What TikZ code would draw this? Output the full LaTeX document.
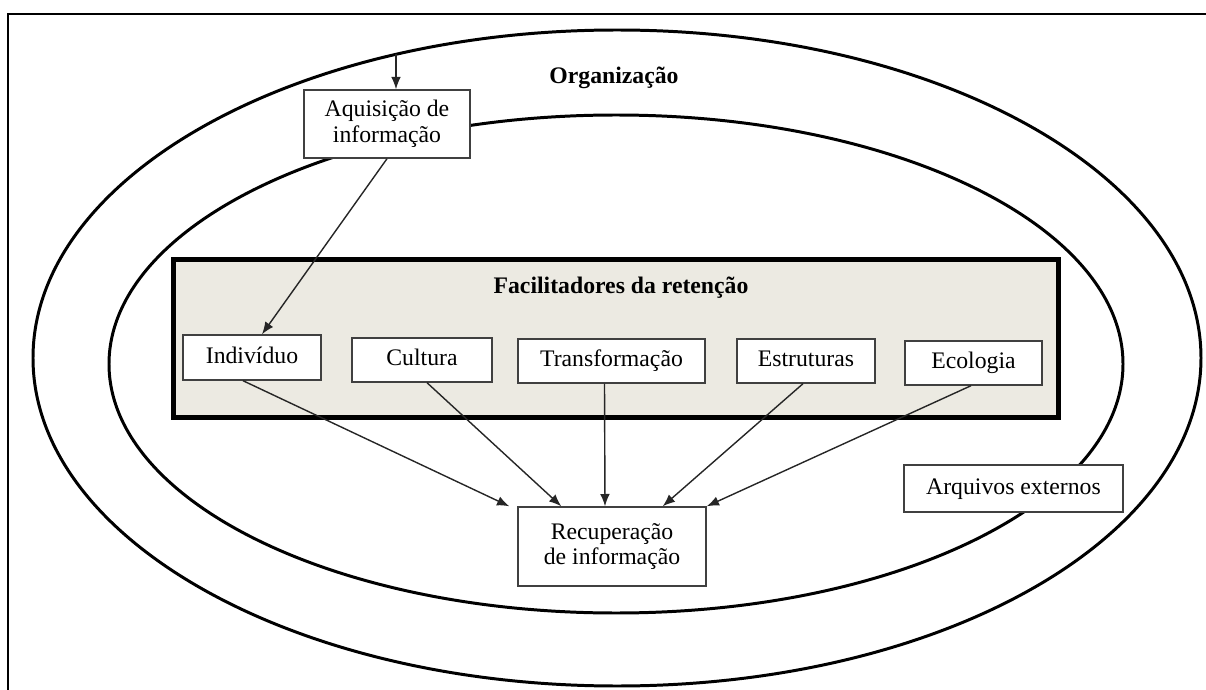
\documentclass[tikz,border=0pt]{standalone}
\usepackage{fontspec}
\setmainfont{Liberation Serif}
\usetikzlibrary{arrows.meta,positioning}
\definecolor{facfill}{RGB}{236,234,226}

\begin{document}
\begin{tikzpicture}
		[>={Latex[length=7pt,width=5.5pt]},
		box node/.style={shape=rectangle,draw=black!75,line width=0.8pt,fill=white,align=center,inner sep=0pt,font=\fontsize{13.5}{14.5}\selectfont},
		one line/.style={text height=9.6pt,text depth=3pt},
		title node/.style={font=\fontsize{13.5}{15}\selectfont\bfseries},
		ring/.style={line width=1.7pt},
		link/.style={->,line width=0.8pt,black!85}
		]
		
		\useasboundingbox (0,0) rectangle (24.12,-13.8);
		\draw[line width=1.2pt] (24.12,-0.28) -- (0.16,-0.28) -- (0.16,-13.8);
		
		\draw[ring] (12.34,-7.16) ellipse [x radius=11.68cm, y radius=6.56cm];
		\draw[ring] (12.32,-7.28) ellipse [x radius=10.14cm, y radius=4.98cm];
		\draw[line width=3pt,fill=facfill] (3.47,-5.19) rectangle (21.17,-8.35);
		
		\node [title node] (org) at (12.28,-1.56) {Organização};
		\node [title node] (fac) at (12.42,-5.76) {Facilitadores da retenção};
		
		\coordinate (0) at (7.92,-1.08);
		\node [box node,minimum width=3.32cm,minimum height=1.36cm] (1) at (7.74,-2.48) {Aquisição de\\informação};
		\node [box node,one line,minimum width=2.76cm,minimum height=0.9cm] (2) at (5.04,-7.15) {Indivíduo};
		\node [box node,one line,minimum width=2.8cm,minimum height=0.88cm] (3) at (8.44,-7.2) {Cultura};
		\node [box node,one line,minimum width=3.74cm,minimum height=0.88cm] (4) at (12.23,-7.22) {Transformação};
		\node [box node,one line,minimum width=2.76cm,minimum height=0.88cm] (5) at (16.12,-7.22) {Estruturas};
		\node [box node,one line,minimum width=2.74cm,minimum height=0.88cm] (6) at (19.47,-7.26) {Ecologia};
		\node [box node,minimum width=3.76cm,minimum height=1.58cm] (7) at (12.24,-10.93) {Recuperação\\de informação};
		\node [box node,one line,minimum width=4.38cm,minimum height=0.94cm] (8) at (20.27,-9.77) {Arquivos externos};
		
		\path[link]
		(0) edge (0 |- 1.north)
		(1.south) edge ([xshift=0.2cm]2.north)
		([xshift=-0.18cm]2.south) edge ([xshift=-0.16cm]7.north west)
		([xshift=0.1cm]3.south) edge ([xshift=0.88cm]7.north west)
		([xshift=-0.14cm]4.south) edge ([xshift=-0.14cm]7.north)
		([xshift=-0.06cm]5.south) edge ([xshift=-0.88cm]7.north east)
		([xshift=-0.05cm]6.south) edge (7.north east)
		;
		
\end{tikzpicture}
\end{document}
